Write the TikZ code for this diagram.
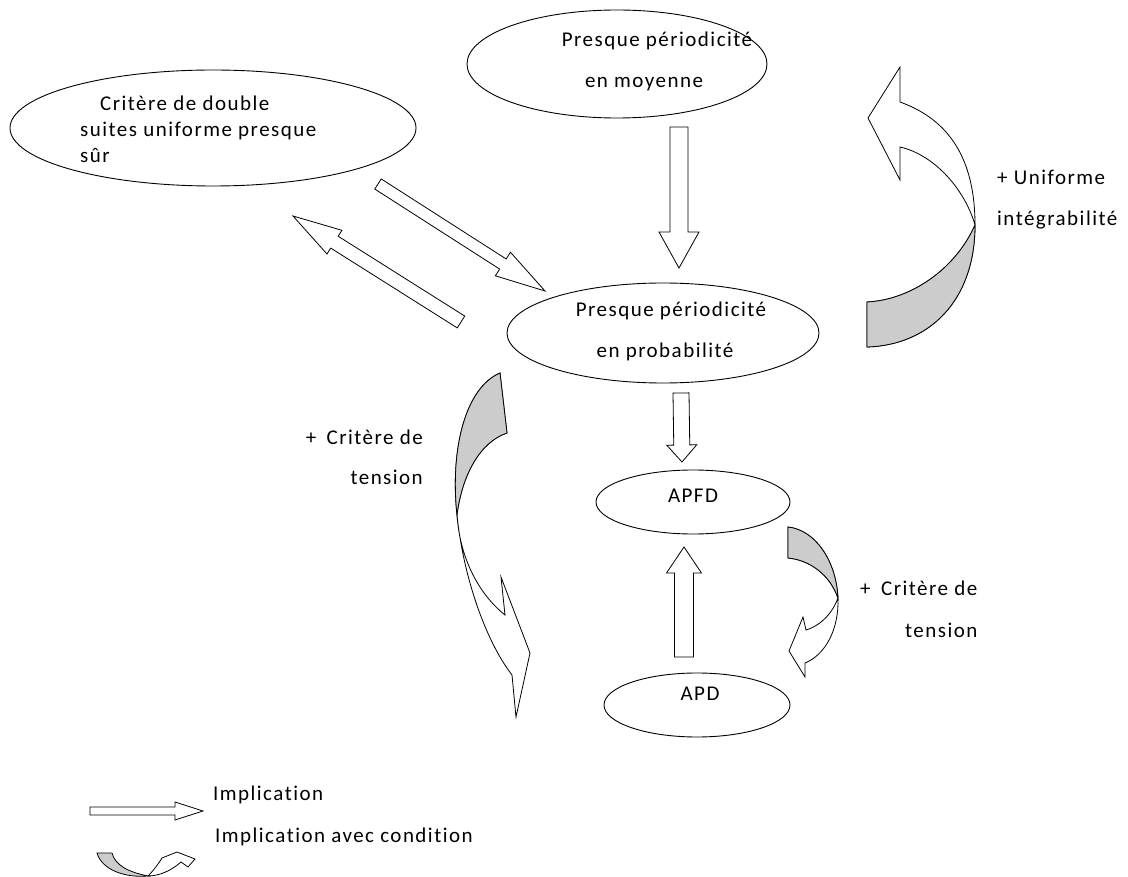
\documentclass[tikz,border=0pt]{standalone}
\usepackage{fontspec}
\setmainfont{Carlito}[LetterSpace=7, Ligatures=NoCommon]
\usepackage{tikz}
\usetikzlibrary{shapes}
\usetikzlibrary{positioning}
\usetikzlibrary{calc}
\usepackage{xcolor}
\definecolor{backgray}{RGB}{204,204,204}

\newcommand{\implarrow}[5]{%
  \draw[implstyle] let \p1=($(#2)-(#1)$), \n1={atan2(\y1,\x1)}, \n2={veclen(\x1,\y1)} in
    [shift={(#1)}, rotate=\n1] (0,#3) -- (\n2-#5,#3) -- (\n2-#5,#4) -- (\n2,0)
    -- (\n2-#5,-#4) -- (\n2-#5,-#3) -- (0,-#3) -- cycle;}

\begin{document}
\begin{tikzpicture}[x=1pt,y=-1pt,
  ellnode/.style={draw, ellipse, inner sep=0pt, line width=.9pt},
  txt/.style={inner sep=0pt, text height=14pt, text depth=4pt, font=\fontsize{21}{26}\selectfont},
  implstyle/.style={draw=black, fill=white, line width=.8pt},
  backface/.style={draw=black, fill=backgray, line width=.8pt},
  frontface/.style={draw=black, fill=white, line width=.8pt}]
\useasboundingbox (0,0) rectangle (1128,877);

\node[ellnode, minimum width=406pt, minimum height=116pt] (crit) at (213,128) {};
\node[ellnode, minimum width=300pt, minimum height=108pt] (moy) at (617,64) {};
\node[ellnode, minimum width=312pt, minimum height=100pt] (proba) at (663,333) {};
\node[ellnode, minimum width=194pt, minimum height=64pt] (apfd) at (693,502) {};
\node[ellnode, minimum width=186pt, minimum height=64pt] (apd) at (697,705) {};

\node[txt, anchor=west, align=left, text height=, text depth=] (critT) at (80,129) {\hspace*{20pt}Critère de double\\suites uniforme presque\\sûr};
\node[txt] (moyA) at (657,42) {Presque périodicité};
\node[txt] (moyB) at (644,83) {en moyenne};
\node[txt] (probA) at (671,312) {Presque périodicité};
\node[txt] (probB) at (665,353) {en probabilité};
\node[txt] (apfdT) at (693,497) {APFD};
\node[txt] (apdT) at (700,695) {APD};
\node[txt, anchor=west] (uniA) at (997,180) {+ Uniforme};
\node[txt, anchor=west] (uniB) at (997,221) {intégrabilité};
\node[txt, anchor=east] (tensA) at (423,439) {+\enspace Critère de};
\node[txt, anchor=east] (tensB) at (423,479) {tension};
\node[txt, anchor=west] (tensC) at (860,590) {+\enspace Critère de};
\node[txt, anchor=west] (tensD) at (905,632) {tension};
\node[txt, anchor=west] (legA) at (213,795) {Implication};
\node[txt, anchor=west] (legB) at (215,837) {Implication avec condition};

\coordinate (moyOut) at (679,127);
\coordinate (probIn) at (679,268);
\coordinate (probOut) at (681,393);
\coordinate (apfdIn) at (682,462);
\coordinate (apdOut) at (684,657);
\coordinate (apfdUp) at (684,547);
\coordinate (critOut) at (378,184);
\coordinate (probSide) at (545,291);
\coordinate (probBack) at (461,322);
\coordinate (critIn) at (293,216);
\coordinate (legS) at (90,811);
\coordinate (legE) at (203,811);

\implarrow{moyOut}{probIn}{9}{20}{36}
\implarrow{probOut}{apfdIn}{8}{15}{17}
\implarrow{apdOut}{apfdUp}{9.5}{17.5}{26}
\implarrow{critOut}{probSide}{6}{14}{50}
\implarrow{probBack}{critIn}{7}{14}{49}
\implarrow{legS}{legE}{4}{9}{28}

\draw[frontface] (867,347) .. controls (930,345) and (975,300) .. (975,225)
  .. controls (975,160) and (950,120) .. (900,102) -- (900,67) -- (868,118) -- (900,180) -- (900,147)
  .. controls (935,155) and (965,190) .. (975,225)
  .. controls (955,270) and (910,300) .. (867,302) -- cycle;
\draw[backface] (867,302) .. controls (910,300) and (955,270) .. (975,225)
  .. controls (975,300) and (930,345) .. (867,347) -- cycle;

\draw[frontface] (500,373) .. controls (465,388) and (450,450) .. (457,515)
  .. controls (463,575) and (485,640) .. (512,675) -- (516,717) -- (530,653) -- (501,577) -- (505,615)
  .. controls (480,595) and (460,560) .. (457,515)
  .. controls (462,475) and (480,442) .. (507,433) -- cycle;
\draw[backface] (500,373) .. controls (465,388) and (450,450) .. (457,515)
  .. controls (462,475) and (480,442) .. (507,433) -- cycle;

\draw[frontface] (788,527) .. controls (815,530) and (836,560) .. (838,598)
  .. controls (839,630) and (825,655) .. (805,663) -- (805,677) -- (789,651) -- (803,617) -- (806,630)
  .. controls (822,625) and (833,612) .. (838,598)
  .. controls (830,575) and (810,560) .. (788,558) -- cycle;
\draw[backface] (788,527) .. controls (815,530) and (836,560) .. (838,598)
  .. controls (830,575) and (810,560) .. (788,558) -- cycle;

\draw[frontface] (148,876) .. controls (160,876) and (172,870) .. (181,862) -- (188,867) -- (195,859)
  -- (177,852) -- (162,858) .. controls (157,866) and (152,872) .. (148,876) -- cycle;
\draw[backface] (97,853) .. controls (102,870) and (125,878) .. (148,876)
  .. controls (128,872) and (115,865) .. (112,853) -- cycle;
\end{tikzpicture}
\end{document}
